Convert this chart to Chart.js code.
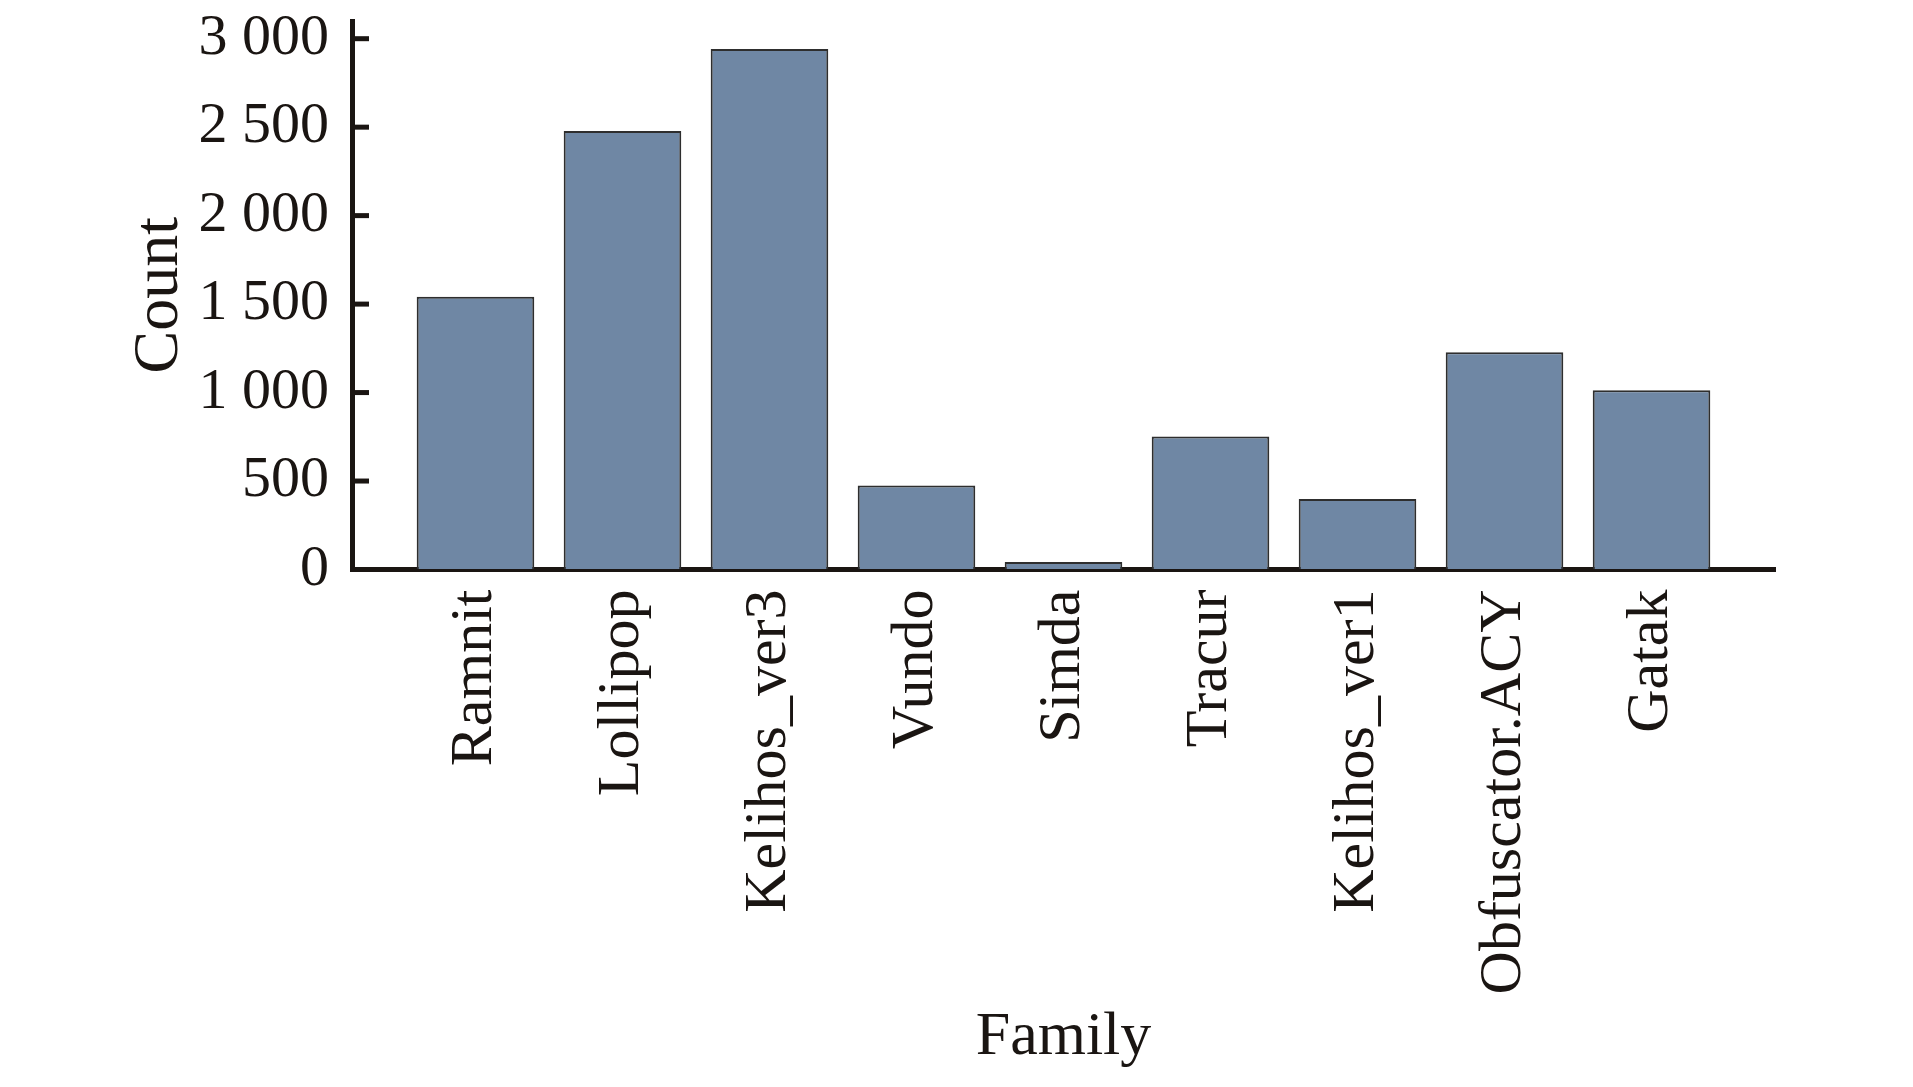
<!DOCTYPE html>
<html>
<head>
<meta charset="utf-8">
<script src="https://cdn.jsdelivr.net/npm/chart.js@4/dist/chart.umd.min.js"></script>
<style>
  html, body { margin: 0; padding: 0; background: #fff; }
  #wrap { width: 1913px; height: 1087px; }
</style>
</head>
<body>
<div id="wrap"><canvas id="grafiek" width="1913" height="1087"></canvas></div>
<script>
// categorieen en aantallen
const families = ["Ramnit", "Lollipop", "Kelihos_ver3", "Vundo", "Simda", "Tracur", "Kelihos_ver1", "Obfuscator.ACY", "Gatak"];
const counts = [1541, 2478, 2942, 475, 42, 751, 398, 1228, 1013];
const yTickValues = [0, 500, 1000, 1500, 2000, 2500, 3000];
const yTickLabels = ["0", "500", "1 000", "1 500", "2 000", "2 500", "3 000"];

const tekstKleur = "#1a1512";
const serif = "'Liberation Serif', 'DejaVu Serif', serif";

// korte tickstreepjes naar binnen op de y-as
const binnenTicks = {
  id: "binnenTicks",
  afterDraw(chart) {
    const { ctx, chartArea, scales } = chart;
    ctx.save();
    ctx.strokeStyle = tekstKleur;
    ctx.lineWidth = 5;
    yTickValues.forEach(v => {
      if (v === 0) return;
      const y = scales.y.getPixelForValue(v);
      ctx.beginPath();
      ctx.moveTo(chartArea.left, y);
      ctx.lineTo(chartArea.left + 17, y);
      ctx.stroke();
    });
    ctx.restore();
  }
};

new Chart(document.getElementById("grafiek"), {
  type: "bar",
  data: {
    datasets: [{
      data: counts.map((c, i) => ({ x: i, y: c })),
      backgroundColor: "#6f87a4",
      borderColor: "#2e2e2e",
      borderWidth: 2,
      categoryPercentage: 1,
      barPercentage: 0.8
    }]
  },
  options: {
    responsive: false,
    animation: false,
    devicePixelRatio: 1,
    layout: { padding: { top: 21, right: 138, bottom: 0, left: 0 } },
    plugins: { legend: { display: false }, tooltip: { enabled: false } },
    scales: {
      x: {
        type: "linear",
        offset: false,
        min: -0.84,
        max: 8.84,
        z: 1,
        grid: { display: true, drawOnChartArea: false, drawTicks: false },
        border: { display: true, color: tekstKleur, width: 5 },
        afterBuildTicks: scale => { scale.ticks = families.map((f, i) => ({ value: i })); },
        afterFit: scale => { scale.height = 517.5; scale.paddingLeft = 0; scale.paddingRight = 0; },
        ticks: {
          autoSkip: false,
          minRotation: 90,
          maxRotation: 90,
          padding: 20,
          color: tekstKleur,
          font: { family: serif, size: 60 },
          callback: v => families[v]
        },
        title: {
          display: true,
          text: "Family",
          color: tekstKleur,
          font: { family: serif, size: 62 },
          padding: { top: 0, bottom: 12 }
        }
      },
      y: {
        min: 0,
        max: 3100,
        z: 1,
        grid: { display: true, drawOnChartArea: false, drawTicks: false },
        border: { display: true, color: tekstKleur, width: 5 },
        afterBuildTicks: scale => { scale.ticks = yTickValues.map(v => ({ value: v })); },
        afterFit: scale => { scale.width = 352; scale.paddingTop = 0; scale.paddingBottom = 0; },
        ticks: {
          padding: 23,
          color: tekstKleur,
          font: { family: serif, size: 58 },
          callback: v => yTickLabels[yTickValues.indexOf(v)]
        },
        title: {
          display: true,
          text: "Count",
          color: tekstKleur,
          font: { family: serif, size: 64 },
          padding: { top: 122, bottom: 0 }
        }
      }
    }
  },
  plugins: [binnenTicks]
});
</script>
</body>
</html>
